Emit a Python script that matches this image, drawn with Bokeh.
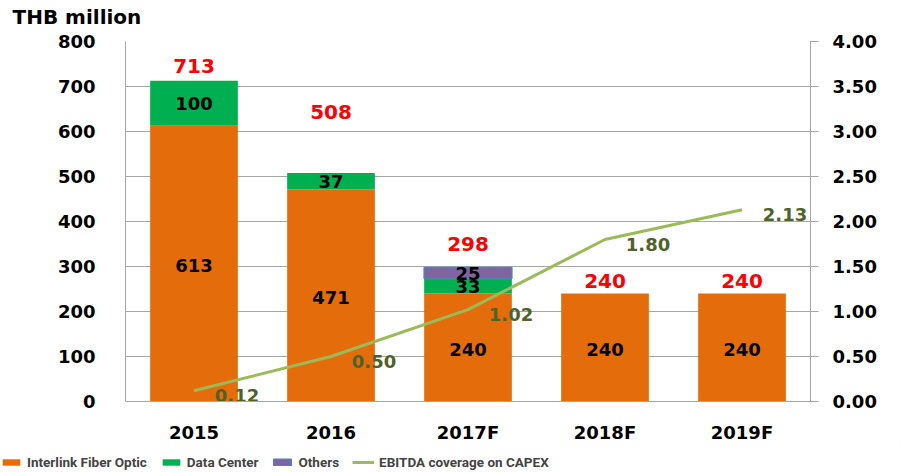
from bokeh.plotting import figure
from bokeh.layouts import column
from bokeh.models import (FactorRange, Range1d, LinearAxis, Legend, LegendItem,
                          ColumnDataSource, FixedTicker, NumeralTickFormatter, Label)
from bokeh.core.properties import value
from bokeh.embed import file_html
from bokeh.resources import INLINE

years = ["2015", "2016", "2017F", "2018F", "2019F"]
fiber = [613, 471, 240, 240, 240]
datacenter = [100, 37, 33, 0, 0]
others = [0, 0, 25, 0, 0]
totals = [713, 508, 298, 240, 240]
ebitda_cov = [0.12, 0.50, 1.02, 1.80, 2.13]
left_ticks = [0, 100, 200, 300, 400, 500, 600, 700, 800]
right_ticks = [0.0, 0.5, 1.0, 1.5, 2.0, 2.5, 3.0, 3.5, 4.0]
series_names = ["Interlink Fiber Optic", "Data Center", "Others",
                "EBITDA coverage on CAPEX"]
unit_title = "THB million"

# style
C_FIBER = "#E46C0A"
C_DC = "#00B050"
C_OTH = "#8064A2"
C_OTH_EDGE = "#4F81BD"
C_LINE = "#9BBB59"
FONT = "DejaVu Sans"
LEGEND_FONT = "Roboto"
total_offsets = [-15, -61, -23, -13, -13]

W = 900
HT, HL = 30, 27          # header strip, legend strip
H = 445 - HT             # main plot
TOP = 41 - HT            # frame top inside main plot
BOT = 405 - HT           # frame bottom inside main plot


def strip(height):
    f = figure(width=W, height=height, output_backend="svg", toolbar_location=None,
               x_range=Range1d(0, 1), y_range=Range1d(0, 1),
               x_axis_location=None, y_axis_location=None,
               min_border=0, min_border_left=0, min_border_right=0,
               min_border_top=0, min_border_bottom=0)
    f.grid.visible = False
    f.outline_line_color = None
    f.frame_align = False
    return f


# header with unit title
hd = strip(HT)
hd.add_layout(Label(x=12, y=HT - 16, x_units="screen", y_units="screen",
                    text=unit_title, text_font=FONT, text_font_style="bold",
                    text_font_size="20px", text_baseline="middle",
                    text_color="black"))

p = figure(width=W, height=H, x_range=FactorRange(*years, range_padding=0),
           y_range=Range1d(0, 800), output_backend="svg", toolbar_location=None,
           min_border_left=125, min_border_right=W - 810, min_border_top=TOP,
           min_border_bottom=H - BOT)
p.frame_align = False
p.outline_line_color = None
p.background_fill_color = "white"
p.extra_y_ranges = {"ratio": Range1d(0, 4)}

dc_top = [f + d for f, d in zip(fiber, datacenter)]
oth_top = [t + o for t, o in zip(dc_top, others)]
src = ColumnDataSource(dict(x=years, fiber=fiber, dc_bot=fiber, dc_top=dc_top,
                            oth_bot=dc_top, oth_top=oth_top,
                            oth_edge=[C_OTH_EDGE if o else None for o in others],
                            total=totals, cov=ebitda_cov,
                            fiber_mid=[f / 2 for f in fiber],
                            dc_mid=[f + d / 2 for f, d in zip(fiber, datacenter)],
                            oth_mid=[t + o / 2 for t, o in zip(dc_top, others)],
                            fiber_lbl=[str(v) for v in fiber],
                            dc_lbl=[str(v) if v else "" for v in datacenter],
                            oth_lbl=[str(v) if v else "" for v in others],
                            total_lbl=[str(v) for v in totals],
                            total_off=total_offsets,
                            cov_lbl=["%.2f" % v for v in ebitda_cov]))

bw = 0.64
p.vbar(x="x", top="fiber", bottom=0, width=bw, source=src,
       fill_color=C_FIBER, line_color=None)
p.vbar(x="x", top="dc_top", bottom="dc_bot", width=bw, source=src,
       fill_color=C_DC, line_color=None)
p.vbar(x="x", top="oth_top", bottom="oth_bot", width=bw, source=src,
       fill_color=C_OTH, line_color="oth_edge", line_width=1.5)
p.line(x="x", y="cov", source=src, y_range_name="ratio",
       line_color=C_LINE, line_width=3)

common = dict(text_font=value(FONT), text_font_style="bold", text_align="center",
              text_baseline="middle")
p.text(x="x", y="fiber_mid", text="fiber_lbl", source=src, text_color="black",
       text_font_size="18px", y_offset=2, **common)
p.text(x="x", y="dc_mid", text="dc_lbl", source=src, text_color="black",
       text_font_size="18px", **common)
p.text(x="x", y="oth_mid", text="oth_lbl", source=src, text_color="black",
       text_font_size="18px", **common)
p.text(x="x", y="total", text="total_lbl", source=src, text_color="#FF0000",
       text_font_size="20px", y_offset="total_off", **common)
p.text(x="x", y="cov", text="cov_lbl", source=src, text_color="#4F6228",
       text_font_size="18px", x_offset=43, y_offset=5, y_range_name="ratio", **common)

# axes
ax = p.yaxis[0]
ax.ticker = FixedTicker(ticks=left_ticks)
ax.axis_line_color = "#A6A6A6"
ax.major_tick_line_color = None
ax.minor_tick_line_color = None
ax.major_label_standoff = 24
ax.major_label_text_font = FONT
ax.major_label_text_font_style = "bold"
ax.major_label_text_font_size = "18px"
ax.major_label_text_color = "black"

rax = LinearAxis(y_range_name="ratio", ticker=FixedTicker(ticks=right_ticks),
                 formatter=NumeralTickFormatter(format="0.00"))
rax.axis_line_color = "#A6A6A6"
rax.major_tick_line_color = "#A6A6A6"
rax.major_tick_in = 0
rax.major_tick_out = 8
rax.minor_tick_line_color = None
rax.major_label_standoff = 14
rax.major_label_text_font = FONT
rax.major_label_text_font_style = "bold"
rax.major_label_text_font_size = "18px"
rax.major_label_text_color = "black"
p.add_layout(rax, "right")

xa = p.xaxis[0]
xa.axis_line_color = "#A6A6A6"
xa.major_tick_line_color = None
xa.minor_tick_line_color = None
xa.major_label_standoff = 14
xa.major_label_text_font = FONT
xa.major_label_text_font_style = "bold"
xa.major_label_text_font_size = "18px"
xa.major_label_text_color = "black"

p.xgrid.grid_line_color = None
p.ygrid.ticker = FixedTicker(ticks=left_ticks)
p.ygrid.grid_line_color = "#A6A6A6"
p.ygrid.grid_line_width = 1

# legend strip (separate figure so that it is not clipped by the main frame)
lg = strip(HL)
dummy = ColumnDataSource(dict(x=[5], top=[5], bottom=[4], y=[5]))
l1 = lg.vbar(x="x", top="top", bottom="bottom", width=1, source=dummy,
             fill_color=C_FIBER, line_color=None)
l2 = lg.vbar(x="x", top="top", bottom="bottom", width=1, source=dummy,
             fill_color=C_DC, line_color=None)
l3 = lg.vbar(x="x", top="top", bottom="bottom", width=1, source=dummy,
             fill_color=C_OTH, line_color=C_OTH_EDGE, line_width=1.5)
l4 = lg.line(x="x", y="y", source=dummy, line_color=C_LINE, line_width=3)
legend = Legend(items=[LegendItem(label=n, renderers=[r])
                       for n, r in zip(series_names, [l1, l2, l3, l4])],
                orientation="horizontal", location=(0, 2))
legend.background_fill_alpha = 0
legend.border_line_color = None
legend.padding = 0
legend.margin = 0
legend.spacing = 13
legend.label_standoff = 5
legend.glyph_width = 22
legend.glyph_height = 8
legend.label_text_font = LEGEND_FONT
legend.label_text_font_style = "bold"
legend.label_text_font_size = "13.5px"
legend.label_height = 14
lg.add_layout(legend, "center")

layout = column(hd, p, lg, spacing=0)
open("out.html", "w").write(file_html(layout, INLINE))
